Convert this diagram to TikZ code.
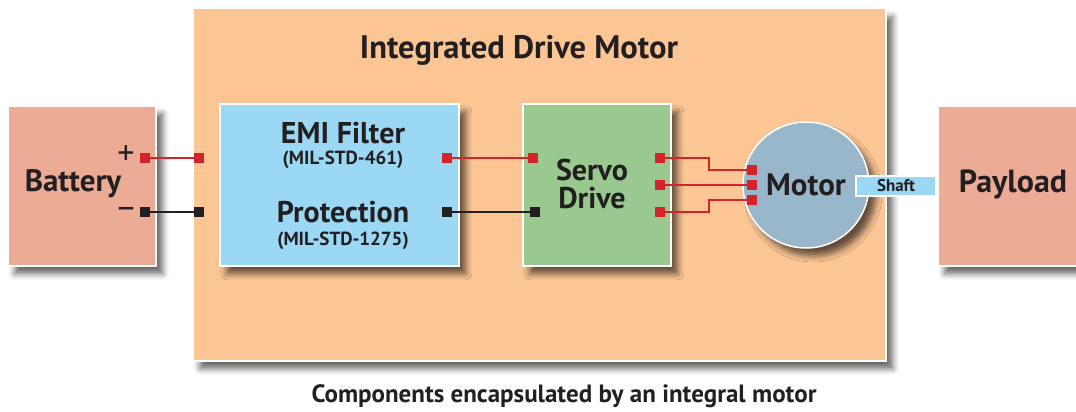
\documentclass[tikz,border=0pt]{standalone}
\usepackage{fontspec}
\setmainfont{PT Sans}
\usetikzlibrary{shadows.blur}
\definecolor{housing}{HTML}{FBC594}
\definecolor{extbox}{HTML}{EBAB95}
\definecolor{filterblue}{HTML}{9BD8F4}
\definecolor{servogreen}{HTML}{99C98F}
\definecolor{motorblue}{HTML}{98B7CB}
\definecolor{wirered}{HTML}{D5232B}
\definecolor{ink}{HTML}{231F20}
\tikzset{
  shade box/.style={draw=white, line width=1.5pt,
    blur shadow={shadow xshift=7pt, shadow yshift=-8pt, shadow blur radius=6pt, shadow opacity=60}},
  block/.style={shade box, rectangle, inner sep=0pt, anchor=north west},
  label/.style={text=ink, font=\bfseries\fontsize{30}{28}\selectfont, align=center, inner sep=0pt},
  sublabel/.style={text=ink, font=\bfseries\fontsize{19}{21}\selectfont, inner sep=0pt},
  pad/.style={rectangle, minimum size=10pt, inner sep=0pt},
  redpad/.style={pad, fill=wirered},
  blackpad/.style={pad, fill=ink},
  redwire/.style={draw=wirered, line width=1.6pt},
  blackwire/.style={draw=ink, line width=1.6pt},
  polarity/.style={text=ink, inner sep=0pt, font=\fontsize{34}{36}\selectfont},
}
\begin{document}
\begin{tikzpicture}[x=1pt, y=-1pt]
\useasboundingbox (0,0) rectangle (1076,412);

% enclosure of the integrated drive motor
\node[block, fill=housing, minimum width=693pt, minimum height=352pt] (housing) at (192,8) {};
\node[text=ink, inner sep=0pt] (title) at (519,50)
  {\resizebox{318pt}{!}{\bfseries\fontsize{26}{28}\selectfont Integrated Drive Motor}};

% external blocks
\node[block, fill=extbox, minimum width=148pt, minimum height=160pt] (battery) at (7,105) {};
\node[label, font=\bfseries\fontsize{31}{33}\selectfont] (batterytext) at (73,184) {Battery};
\node[block, fill=extbox, minimum width=150pt, minimum height=160pt] (payload) at (937,105) {};
\node[label, font=\bfseries\fontsize{32}{34}\selectfont] (payloadtext) at (1013,184) {Payload};

% filter / protection block
\node[block, fill=filterblue, minimum width=239pt, minimum height=162pt] (filter) at (219,103) {};
\node[label] (emi) at (343,133) {EMI Filter};
\node[sublabel] (emistd) at (343,160) {(MIL-STD-461)};
\node[label] (prot) at (343,212) {Protection};
\node[sublabel] (protstd) at (343,241) {(MIL-STD-1275)};

% servo drive block
\node[block, fill=servogreen, minimum width=148pt, minimum height=162pt] (servo) at (522,103) {};
\node[label] (servotext) at (592,184) {Servo\\Drive};

% motor and shaft
\node[shade box, circle, fill=motorblue, minimum size=126pt, inner sep=0pt] (motor) at (806,185) {};
\node[label, font=\bfseries\fontsize{31}{33}\selectfont] (motortext) at (806,185) {Motor};
\node[draw=white, line width=1.2pt, fill=filterblue, minimum width=80pt, minimum height=20pt, inner sep=0pt,
      text=ink, font=\bfseries\fontsize{17}{19}\selectfont] (shaft) at (896,186) {Shaft};

% terminals
\node[redpad] (batp) at (145,158) {};
\node[blackpad] (batn) at (145,212) {};
\node[redpad] (finp) at (199,158) {};
\node[blackpad] (finn) at (199,212) {};
\node[redpad] (foutp) at (447,158) {};
\node[blackpad] (foutn) at (447,212) {};
\node[redpad] (sinp) at (533,158) {};
\node[blackpad] (sinn) at (535,212) {};
\node[redpad] (sa) at (660,158) {};
\node[redpad] (sb) at (660,185) {};
\node[redpad] (sc) at (660,212) {};
\node[redpad] (ma) at (752,170) {};
\node[redpad] (mb) at (752,185) {};
\node[redpad] (mc) at (752,200) {};

\node[polarity] (plus) at (126,155) {+};
\node[polarity] (minus) at (126,213) {\textendash};

% wiring
\draw[redwire] (batp) -- (finp);
\draw[blackwire] (batn) -- (finn);
\draw[redwire] (foutp) -- (sinp);
\draw[blackwire] (foutn) -- (sinn);
\draw[redwire] (sa) -- ++(49,0) |- (ma);
\draw[redwire] (sb) -- (mb);
\draw[redwire] (sc) -- ++(49,0) |- (mc);

% caption
\node[text=ink, inner sep=0pt] (caption) at (564,396)
  {\resizebox{505pt}{!}{\bfseries\fontsize{20}{22}\selectfont Components encapsulated by an integral motor}};
\end{tikzpicture}
\end{document}
